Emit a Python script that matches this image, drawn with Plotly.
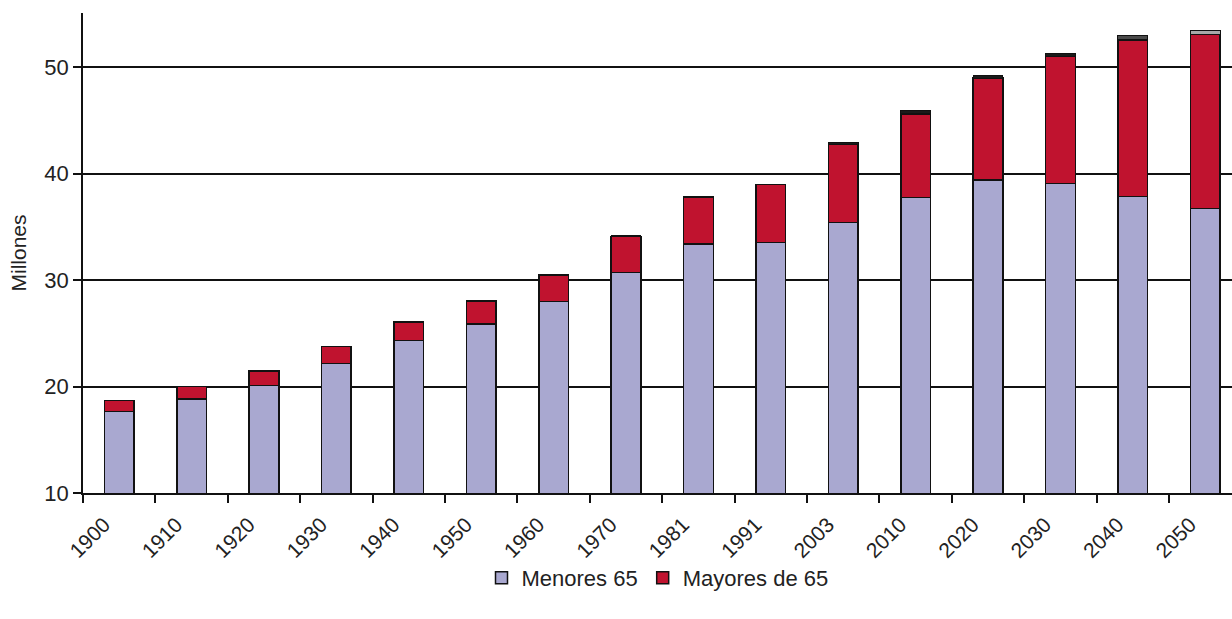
import plotly.graph_objects as go

# Población por grupo de edad (millones)
years = ["1900", "1910", "1920", "1930", "1940", "1950", "1960", "1970",
         "1981", "1991", "2003", "2010", "2020", "2030", "2040", "2050"]
menores_65 = [17.63, 18.83, 20.08, 22.18, 24.30, 25.87, 27.96, 30.69,
              33.38, 33.50, 35.42, 37.73, 39.39, 39.08, 37.83, 36.70]
mayores_65 = [1.07, 1.15, 1.38, 1.56, 1.74, 2.16, 2.49, 3.41,
              4.37, 5.45, 7.28, 7.87, 9.56, 11.89, 14.71, 16.37]
no_consta = [0, 0, 0, 0, 0, 0, 0.08, 0.06,
             0.05, 0.05, 0.25, 0.28, 0.25, 0.31, 0.46, 0.40]
no_consta_colors = ["#1a1a1a"] * 13 + ["#1a1a1a", "#4a4a4a", "#a8a8a8"]

FONT = "Liberation Sans, Arial, sans-serif"
pos = list(range(len(years)))
BAR_W = 0.41

fig = go.Figure()
fig.add_trace(go.Bar(
    x=pos, y=menores_65, name="Menores 65", width=BAR_W,
    marker=dict(color="#A9A8D0", line=dict(color="#111111", width=1.5)),
))
fig.add_trace(go.Bar(
    x=pos, y=mayores_65, name="Mayores de 65", width=BAR_W,
    marker=dict(color="#C0132F", line=dict(color="#111111", width=1.5)),
))
fig.add_trace(go.Bar(
    x=pos, y=no_consta, name="No consta", width=BAR_W, showlegend=False,
    marker=dict(color=no_consta_colors, line=dict(color="#111111", width=1)),
))
# carrier trace for the label axis
fig.add_trace(go.Scatter(x=[pos[0]], y=[None], xaxis="x2", showlegend=False,
                         hoverinfo="skip", mode="markers"))

x_range = [-0.5, 15.37]
fig.update_layout(
    width=1232, height=619,
    margin=dict(l=83, r=0, t=13, b=126),
    barmode="stack", bargap=0.5,
    plot_bgcolor="white", paper_bgcolor="white",
    font=dict(family=FONT, size=22, color="#222222"),
    xaxis=dict(
        range=x_range, tickmode="array",
        tickvals=[p - 0.5 for p in pos], ticktext=[""] * len(pos),
        ticks="outside", ticklen=8, tickwidth=1.5, tickcolor="#111111",
        showline=True, linecolor="#111111", linewidth=1.5,
        showgrid=False, zeroline=False,
    ),
    xaxis2=dict(
        overlaying="x", matches="x", range=x_range, side="bottom",
        tickmode="array", tickvals=[p - 0.21 for p in pos], ticktext=years,
        tickangle=-45, ticks="outside", ticklen=10,
        tickcolor="rgba(0,0,0,0)", showline=False, showgrid=False,
        zeroline=False, tickfont=dict(family=FONT, size=21, color="#222222"),
    ),
    yaxis=dict(
        range=[10, 55.07], tickmode="array", tickvals=[10, 20, 30, 40, 50],
        ticks="outside", ticklen=8, tickwidth=1.5, tickcolor="#111111",
        showline=True, linecolor="#111111", linewidth=1.5,
        showgrid=True, gridcolor="#111111", gridwidth=1.5, zeroline=False,
        title=dict(text="Millones", standoff=12, font=dict(size=21)),
        tickfont=dict(size=22),
    ),
    legend=dict(
        orientation="h", x=0.5, xanchor="center", y=-0.177, yanchor="middle",
        font=dict(family=FONT, size=22, color="#222222"),
        bgcolor="rgba(0,0,0,0)", itemwidth=30, traceorder="normal",
    ),
)

fig.write_html("out.html")
